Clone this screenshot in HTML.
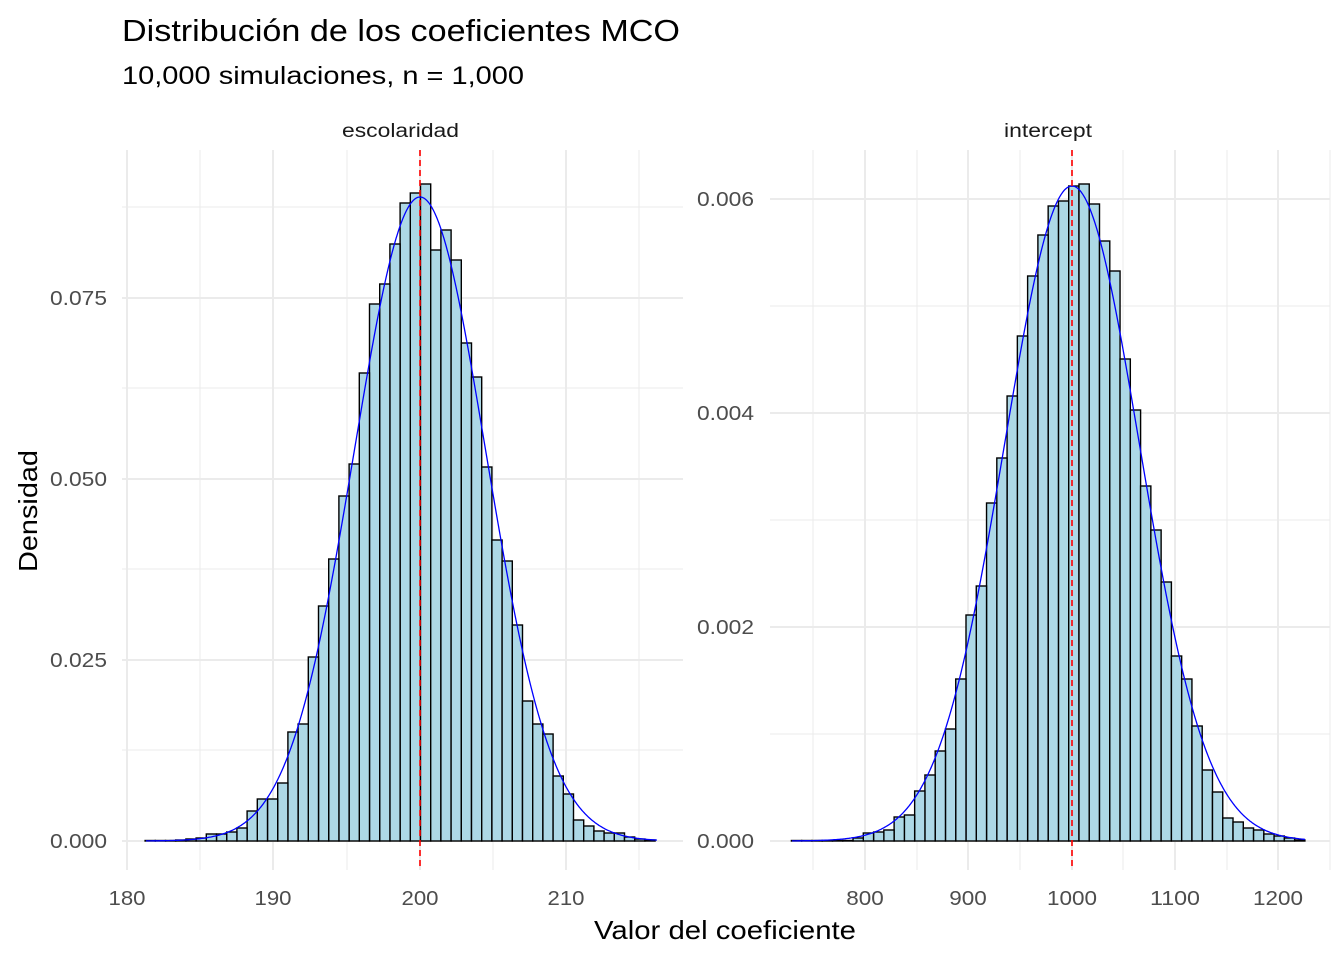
<!DOCTYPE html>
<html><head><meta charset="utf-8"><style>body{margin:0;background:#fff}svg{display:block}text{font-family:"Liberation Sans",sans-serif}</style></head>
<body>
<svg id="s" width="1344" height="960" xmlns="http://www.w3.org/2000/svg">
<text x="122" y="41" font-size="31" textLength="558" lengthAdjust="spacingAndGlyphs" fill="#000">Distribución de los coeficientes MCO</text>
<text x="122" y="84" font-size="25" textLength="402" lengthAdjust="spacingAndGlyphs" fill="#000">10,000 simulaciones, n = 1,000</text>
<text x="342" y="137" font-size="19" textLength="117" lengthAdjust="spacingAndGlyphs" fill="#1a1a1a">escolaridad</text>
<text x="1004" y="137" font-size="19" textLength="88" lengthAdjust="spacingAndGlyphs" fill="#1a1a1a">intercept</text>
<text x="594" y="939" font-size="26" textLength="262" lengthAdjust="spacingAndGlyphs" fill="#000">Valor del coeficiente</text>
<text x="0" y="0" font-size="26" textLength="122" lengthAdjust="spacingAndGlyphs" fill="#000" transform="translate(37 572) rotate(-90)">Densidad</text>
<g id="g"></g>
</svg>
<script>
var NS="http://www.w3.org/2000/svg",g=document.getElementById("g");
function el(t,a,p){var e=document.createElementNS(NS,t);for(var k in a)e.setAttribute(k,a[k]);(p||g).appendChild(e);return e;}
function txt(x,y,s,anc,w){var a={x:x,y:y,"font-size":20,fill:"#4d4d4d","text-anchor":anc,textLength:w,lengthAdjust:"spacingAndGlyphs"};var e=el("text",a);e.textContent=s;}
function panel(x0,x1,y0,y1,mx,Mx,my,My){
 mx.forEach(function(x){el("line",{x1:x,x2:x,y1:y0,y2:y1,stroke:"#ebebeb","stroke-width":1});});
 my.forEach(function(y){el("line",{x1:x0,x2:x1,y1:y,y2:y,stroke:"#ebebeb","stroke-width":1});});
 Mx.forEach(function(x){el("line",{x1:x,x2:x,y1:y0,y2:y1,stroke:"#ebebeb","stroke-width":2});});
 My.forEach(function(y){el("line",{x1:x0,x2:x1,y1:y,y2:y,stroke:"#ebebeb","stroke-width":2});});
}
panel(122,683,150,870,[200,347,493,639],[127,273,420,566],[750,569,388,207],[841,660,479,298]);
panel(770,1330,150,870,[813,917,1020,1123,1227,1330],[865,968,1072,1175,1278],[734,520,306],[841,627,413,199]);
[["180",127],["190",273],["200",420],["210",566]].forEach(function(a){txt(a[1],905,a[0],"middle",37);});
[["800",865],["900",968],["1000",1072],["1100",1175],["1200",1278]].forEach(function(a){txt(a[1],905,a[0],"middle",a[0].length*12.5);});
[["0.000",841],["0.025",660],["0.050",479],["0.075",298]].forEach(function(a){txt(107,a[1]+7,a[0],"end",57);});
[["0.000",841],["0.002",627],["0.004",413],["0.006",199]].forEach(function(a){txt(754,a[1]+7,a[0],"end",57);});
function bars(c,w,pos,neg){
 function b(x,t){if(t>840.5)t=840.5;el("rect",{x:x,y:t,width:w,height:841-t,fill:"#add8e6",stroke:"#000","stroke-width":1.4});}
 neg.forEach(function(t,i){b(c-(i+1)*w,t);});
 pos.forEach(function(t,i){b(c+i*w,t);});
}
bars(420.5,10.2,[184,250,230,260,343,377,467,540,561,625,701,724,734,776,794,820,826,831,833,833,837,839,840],
 [193,203,244,284,304,373,464,496,559,606,657,724,732,783,799,799,811,828,832,834,834,838,839,840,841,841,841]);
bars(1068.7,10.27,[186,184,204,241,271,359,410,486,530,582,656,679,726,770,792,818,822,828,830,834,836,838,840],
 [201,206,235,276,336,396,458,503,586,615,679,729,751,775,791,815,817,830,832,833,838,841,841,841,841,841,841]);
function curve(xa,xb,cx,pxu,sd,peakPx){
 var p=[];for(var x=xa;x<=xb;x+=1){var u=(x-cx)/pxu;p.push(x+","+(841-peakPx*Math.exp(-u*u/(2*sd*sd))).toFixed(1));}
 el("polyline",{points:p.join(" "),fill:"none",stroke:"#0000ff","stroke-width":1.3});
}
curve(146,657,420,14.65,4.48,644);
curve(792,1305,1072,1.033,65.2,655);
el("line",{x1:420,x2:420,y1:150,y2:870,stroke:"#ff0000","stroke-width":1.6,"stroke-dasharray":"6,4"});
el("line",{x1:1072,x2:1072,y1:150,y2:870,stroke:"#ff0000","stroke-width":1.6,"stroke-dasharray":"6,4"});
</script>
</body></html>
